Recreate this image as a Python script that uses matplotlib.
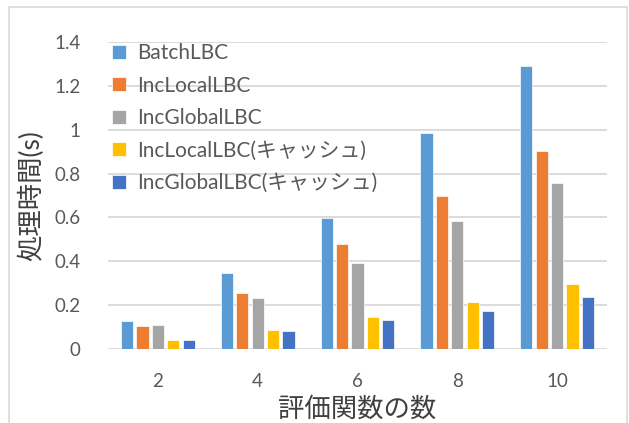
import matplotlib
matplotlib.use("Agg")
import matplotlib.pyplot as plt
import numpy as np
from matplotlib.patches import Rectangle

plt.rcParams['font.family'] = ['Lato', 'Noto Sans CJK JP', 'DejaVu Sans']

# data
categories = ['2', '4', '6', '8', '10']
series_names = ['BatchLBC', 'IncLocalLBC', 'IncGlobalLBC',
                'IncLocalLBC(キャッシュ)', 'IncGlobalLBC(キャッシュ)']
batch = [0.127, 0.346, 0.598, 0.984, 1.289]
inc_local = [0.105, 0.257, 0.478, 0.697, 0.902]
inc_global = [0.110, 0.233, 0.392, 0.585, 0.758]
inc_local_cache = [0.040, 0.085, 0.145, 0.213, 0.298]
inc_global_cache = [0.043, 0.082, 0.130, 0.175, 0.237]
y_ticks = [0, 0.2, 0.4, 0.6, 0.8, 1, 1.2, 1.4]
y_tick_labels = ['0', '0.2', '0.4', '0.6', '0.8', '1', '1.2', '1.4']

series = [batch, inc_local, inc_global, inc_local_cache, inc_global_cache]
colors = ['#5B9BD5', '#ED7D31', '#A5A5A5', '#FFC000', '#4472C4']

fig = plt.figure(figsize=(6.29, 4.23), dpi=100)
ax = fig.add_axes([108 / 629, 1 - 349 / 423, (607 - 108) / 629, (349 - 42) / 423])

# outer chart border (light gray)
fig.patches.append(Rectangle((9 / 629, -0.1), (627 - 9) / 629, 1.1 - 7 / 423,
                             transform=fig.transFigure, fill=False,
                             edgecolor='#D9D9D9', linewidth=1.2))

x = np.arange(len(categories))
step = 0.154
width = 0.122
for i, (vals, name, c) in enumerate(zip(series, series_names, colors)):
    ax.bar(x + (i - 2) * step, vals, width, color=c, label=name,
           edgecolor='white', linewidth=0.5, zorder=3)

ax.set_xlim(-0.5, len(categories) - 0.5)
ax.set_ylim(0, 1.4)
ax.set_yticks(y_ticks)
ax.set_yticklabels(y_tick_labels)
ax.set_xticks(x)
ax.set_xticklabels(categories)
ax.yaxis.grid(True, color='#D9D9D9', linewidth=1.3, zorder=0)
ax.set_axisbelow(True)
for s in ax.spines.values():
    s.set_visible(False)
ax.tick_params(axis='both', length=0, labelsize=13.5, colors='#595959')
ax.tick_params(axis='y', pad=20)
ax.tick_params(axis='x', pad=17)

ax.set_ylabel('処理時間(s)', fontsize=19, color='#404040', labelpad=7)
ax.set_xlabel('評価関数の数', fontsize=19, color='#404040', labelpad=5)

leg = ax.legend(loc='upper left', bbox_to_anchor=(-0.012, 1.03), frameon=False,
                fontsize=15, handlelength=0.65, handleheight=0.65,
                handletextpad=0.55, labelspacing=0.6, borderaxespad=0.1)
for t in leg.get_texts():
    t.set_color('#595959')

fig.savefig('out.png', dpi=100)
